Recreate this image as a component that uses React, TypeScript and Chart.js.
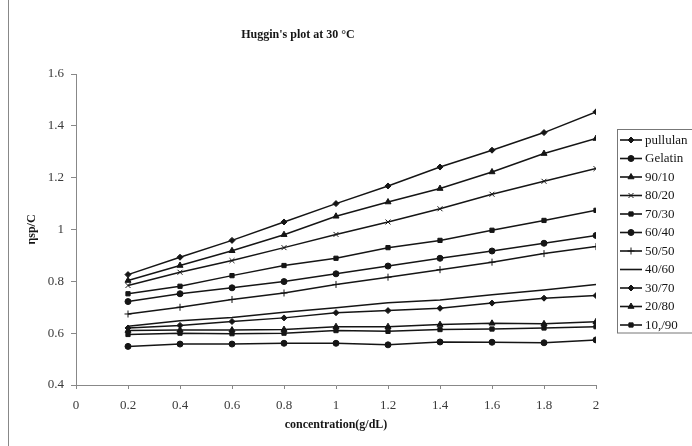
import React, { useEffect, useRef } from "react";
import { Chart, registerables } from "chart.js";
import { drawPoint } from "chart.js/helpers";

Chart.register(...registerables);

const concentration = [0.2, 0.4, 0.6, 0.8, 1.0, 1.2, 1.4, 1.6, 1.8, 2.0];
const seriesLabels = ["pullulan", "Gelatin", "90/10", "80/20", "70/30", "60/40", "50/50", "40/60", "30/70", "20/80", "10,/90"];

const pullulan = [0.826, 0.893, 0.958, 1.029, 1.1, 1.168, 1.241, 1.306, 1.374, 1.454];
const gelatin = [0.549, 0.558, 0.558, 0.561, 0.561, 0.555, 0.566, 0.565, 0.563, 0.574];
const s90_10 = [0.803, 0.861, 0.918, 0.98, 1.051, 1.106, 1.158, 1.222, 1.293, 1.351];
const s80_20 = [0.784, 0.835, 0.88, 0.93, 0.981, 1.029, 1.08, 1.136, 1.186, 1.235];
const s70_30 = [0.752, 0.781, 0.822, 0.861, 0.889, 0.93, 0.958, 0.997, 1.035, 1.074];
const s60_40 = [0.722, 0.752, 0.775, 0.799, 0.829, 0.859, 0.889, 0.917, 0.947, 0.977];
const s50_50 = [0.674, 0.7, 0.73, 0.755, 0.788, 0.816, 0.845, 0.874, 0.907, 0.934];
const s40_60 = [0.627, 0.648, 0.66, 0.681, 0.698, 0.717, 0.728, 0.748, 0.767, 0.788];
const s30_70 = [0.62, 0.63, 0.645, 0.659, 0.679, 0.687, 0.696, 0.716, 0.735, 0.745];
const s20_80 = [0.61, 0.612, 0.612, 0.614, 0.625, 0.625, 0.633, 0.638, 0.636, 0.644];
const s10_90 = [0.595, 0.6, 0.598, 0.6, 0.61, 0.607, 0.614, 0.616, 0.62, 0.625];

const seriesValues = [pullulan, gelatin, s90_10, s80_20, s70_30, s60_40, s50_50, s40_60, s30_70, s20_80, s10_90];

const markerStyles = ["rectRot", "circle", "triangle", "crossRot", "rect", "circle", "cross", "circle", "rectRot", "triangle", "rect"];
const markerSizes = [3, 3, 3.5, 3.5, 3, 3, 3.5, 0, 3, 3.5, 3];

const INK = "#151515";
const SERIF = '"Liberation Serif", "Times New Roman", serif';

const legendPlugin = {
  id: "boxLegend",
  afterDraw(chart: any) {
    const ctx = chart.ctx;
    ctx.save();
    ctx.strokeStyle = "#888";
    ctx.lineWidth = 1;
    ctx.beginPath();
    ctx.moveTo(8.5, 0);
    ctx.lineTo(8.5, 446);
    ctx.stroke();

    const left = 617.5, top = 129.5, right = 700, bottom = 333;
    ctx.strokeStyle = "#777";
    ctx.lineWidth = 1;
    ctx.strokeRect(left, top, right - left, bottom - top);
    chart.data.datasets.forEach((ds: any, i: number) => {
      const y = 140 + i * 18.5;
      ctx.strokeStyle = INK;
      ctx.lineWidth = 1.6;
      ctx.beginPath();
      ctx.moveTo(620, y);
      ctx.lineTo(642, y);
      ctx.stroke();
      if (ds.pointRadius > 0) {
        ctx.fillStyle = INK;
        ctx.strokeStyle = INK;
        ctx.lineWidth = 1;
        drawPoint(ctx, { pointStyle: ds.pointStyle, radius: ds.pointRadius, rotation: 0, borderWidth: 1 }, 631, y);
      }
      ctx.fillStyle = INK;
      ctx.font = `13px ${SERIF}`;
      ctx.textBaseline = "middle";
      ctx.textAlign = "left";
      ctx.fillText(ds.label, 645, y + 0.5);
    });
    ctx.restore();
  },
};

function fmt(v: number) {
  const r = Math.round(v * 10) / 10;
  return String(r);
}

export default function App() {
  const ref = useRef<HTMLCanvasElement | null>(null);

  useEffect(() => {
    if (!ref.current) return;
    const datasets = seriesLabels.map((label, i) => ({
      label,
      data: concentration.map((x, j) => ({ x, y: seriesValues[i][j] })),
      borderColor: INK,
      backgroundColor: INK,
      pointBackgroundColor: INK,
      pointBorderColor: INK,
      borderWidth: 1.5,
      pointStyle: markerStyles[i],
      pointRadius: markerSizes[i],
      pointBorderWidth: 1,
      tension: 0,
      fill: false,
    }));

    const chart = new Chart(ref.current, {
      type: "line",
      data: { datasets },
      plugins: [legendPlugin],
      options: {
        animation: false,
        responsive: false,
        devicePixelRatio: 1,
        layout: { padding: { left: 0, right: 96, top: 0, bottom: 0 } },
        plugins: {
          legend: { display: false },
          tooltip: { enabled: false },
          title: {
            display: true,
            text: "Huggin's plot at 30 °C",
            color: INK,
            font: { family: SERIF, size: 12, weight: "bold" },
            padding: { top: 28, bottom: 31.6 },
          },
        },
        scales: {
          x: {
            type: "linear",
            min: 0,
            max: 2,
            afterFit: (s: any) => {
              s.height = 61;
            },
            ticks: {
              stepSize: 0.2,
              color: "#3a3a3a",
              font: { family: SERIF, size: 13 },
              padding: 9,
              maxRotation: 0,
              autoSkip: false,
              callback: (v: any) => fmt(Number(v)),
            },
            grid: { drawOnChartArea: false, drawTicks: true, tickLength: 4, color: "#888" },
            border: { display: true, color: "#888", width: 1 },
            title: {
              display: true,
              text: "concentration(g/dL)",
              color: INK,
              font: { family: SERIF, size: 12, weight: "bold" },
              padding: { top: 0, bottom: 13.8 },
            },
          },
          y: {
            type: "linear",
            min: 0.4,
            max: 1.6,
            afterFit: (s: any) => {
              s.width = 76;
            },
            ticks: {
              stepSize: 0.2,
              color: "#3a3a3a",
              font: { family: SERIF, size: 13 },
              padding: 7,
              callback: (v: any) => fmt(Number(v)),
            },
            grid: { drawOnChartArea: false, drawTicks: true, tickLength: 5, color: "#888" },
            border: { display: true, color: "#888", width: 1 },
            title: {
              display: true,
              text: "ηsp/C",
              color: INK,
              font: { family: SERIF, size: 12, weight: "bold" },
              padding: { top: 25, bottom: 0 },
            },
          },
        },
      },
    } as any);
    return () => chart.destroy();
  }, []);

  return (
    <div style={{ position: "absolute", left: 0, top: 0, width: 692, height: 446, background: "#fff" }}>
      <canvas ref={ref} width={692} height={446} style={{ width: 692, height: 446, display: "block" }} />
    </div>
  );
}
